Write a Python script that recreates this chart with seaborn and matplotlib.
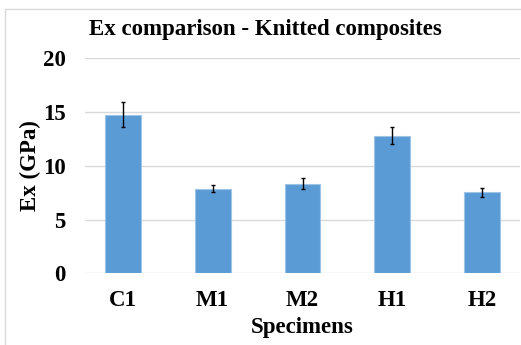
import matplotlib
matplotlib.use("Agg")
import matplotlib.pyplot as plt
import seaborn as sns
import pandas as pd
from matplotlib.patches import Rectangle

categories = ["C1", "M1", "M2", "H1", "H2"]
ex_values = [14.75, 7.88, 8.35, 12.8, 7.55]
ex_errors = [1.15, 0.35, 0.55, 0.8, 0.42]
y_ticks = [0, 5, 10, 15, 20]

sns.set_theme(style="white")
plt.rcParams["font.family"] = ["Liberation Serif", "DejaVu Serif"]
plt.rcParams["font.weight"] = "bold"

FS = 16.5
W, H = 521, 345
fig = plt.figure(figsize=(W / 100, H / 100), dpi=100)
ax_h = 273.3 - 58.3
ax = fig.add_axes([85 / W, 1 - 273.3 / H, 435 / W, ax_h / H])

df = pd.DataFrame({"Specimen": categories, "Ex": ex_values})
sns.barplot(data=df, x="Specimen", y="Ex", ax=ax, color="#5B9BD5", saturation=1,
            width=0.4, edgecolor="#9DC3E6", linewidth=0.8, errorbar=None, zorder=2)
ax.errorbar(categories, ex_values, yerr=ex_errors, fmt="none", ecolor="black",
            elinewidth=1.0, capsize=1.5, capthick=1.0, zorder=3)

ax.set_ylim(0, 20)
ax.set_yticks(y_ticks)
ax.yaxis.grid(True, color="#d9d9d9", linewidth=1.0, zorder=0)
ax.set_axisbelow(True)
for s in ax.spines.values():
    s.set_visible(False)
ax.tick_params(axis="both", length=0, labelsize=FS, colors="black")
ax.tick_params(axis="x", pad=12)
ax.tick_params(axis="y", pad=14)
for lab in ax.get_xticklabels() + ax.get_yticklabels():
    lab.set_fontweight("bold")

ax.set_xlabel("Specimens", fontsize=FS, fontweight="bold", color="black")
ax.xaxis.set_label_coords(0.5, (273.3 - 327) / ax_h)
ax.xaxis.label.set_va("center")
ax.set_ylabel("Ex (GPa)", fontsize=FS, fontweight="bold", color="black")
ax.yaxis.set_label_coords((30 - 85) / 435, 0.5)
ax.yaxis.label.set_va("center")
fig.text(0.51, 1 - 29 / H, "Ex comparison - Knitted composites", ha="center", va="center",
         fontsize=FS, fontweight="bold", color="black")

fig.patches.append(Rectangle((5 / W, -0.1), 1.1, 1 - 9 / H + 0.1, transform=fig.transFigure,
                             fill=False, edgecolor="#d9d9d9", linewidth=1.0))

fig.savefig("out.png", dpi=100)
